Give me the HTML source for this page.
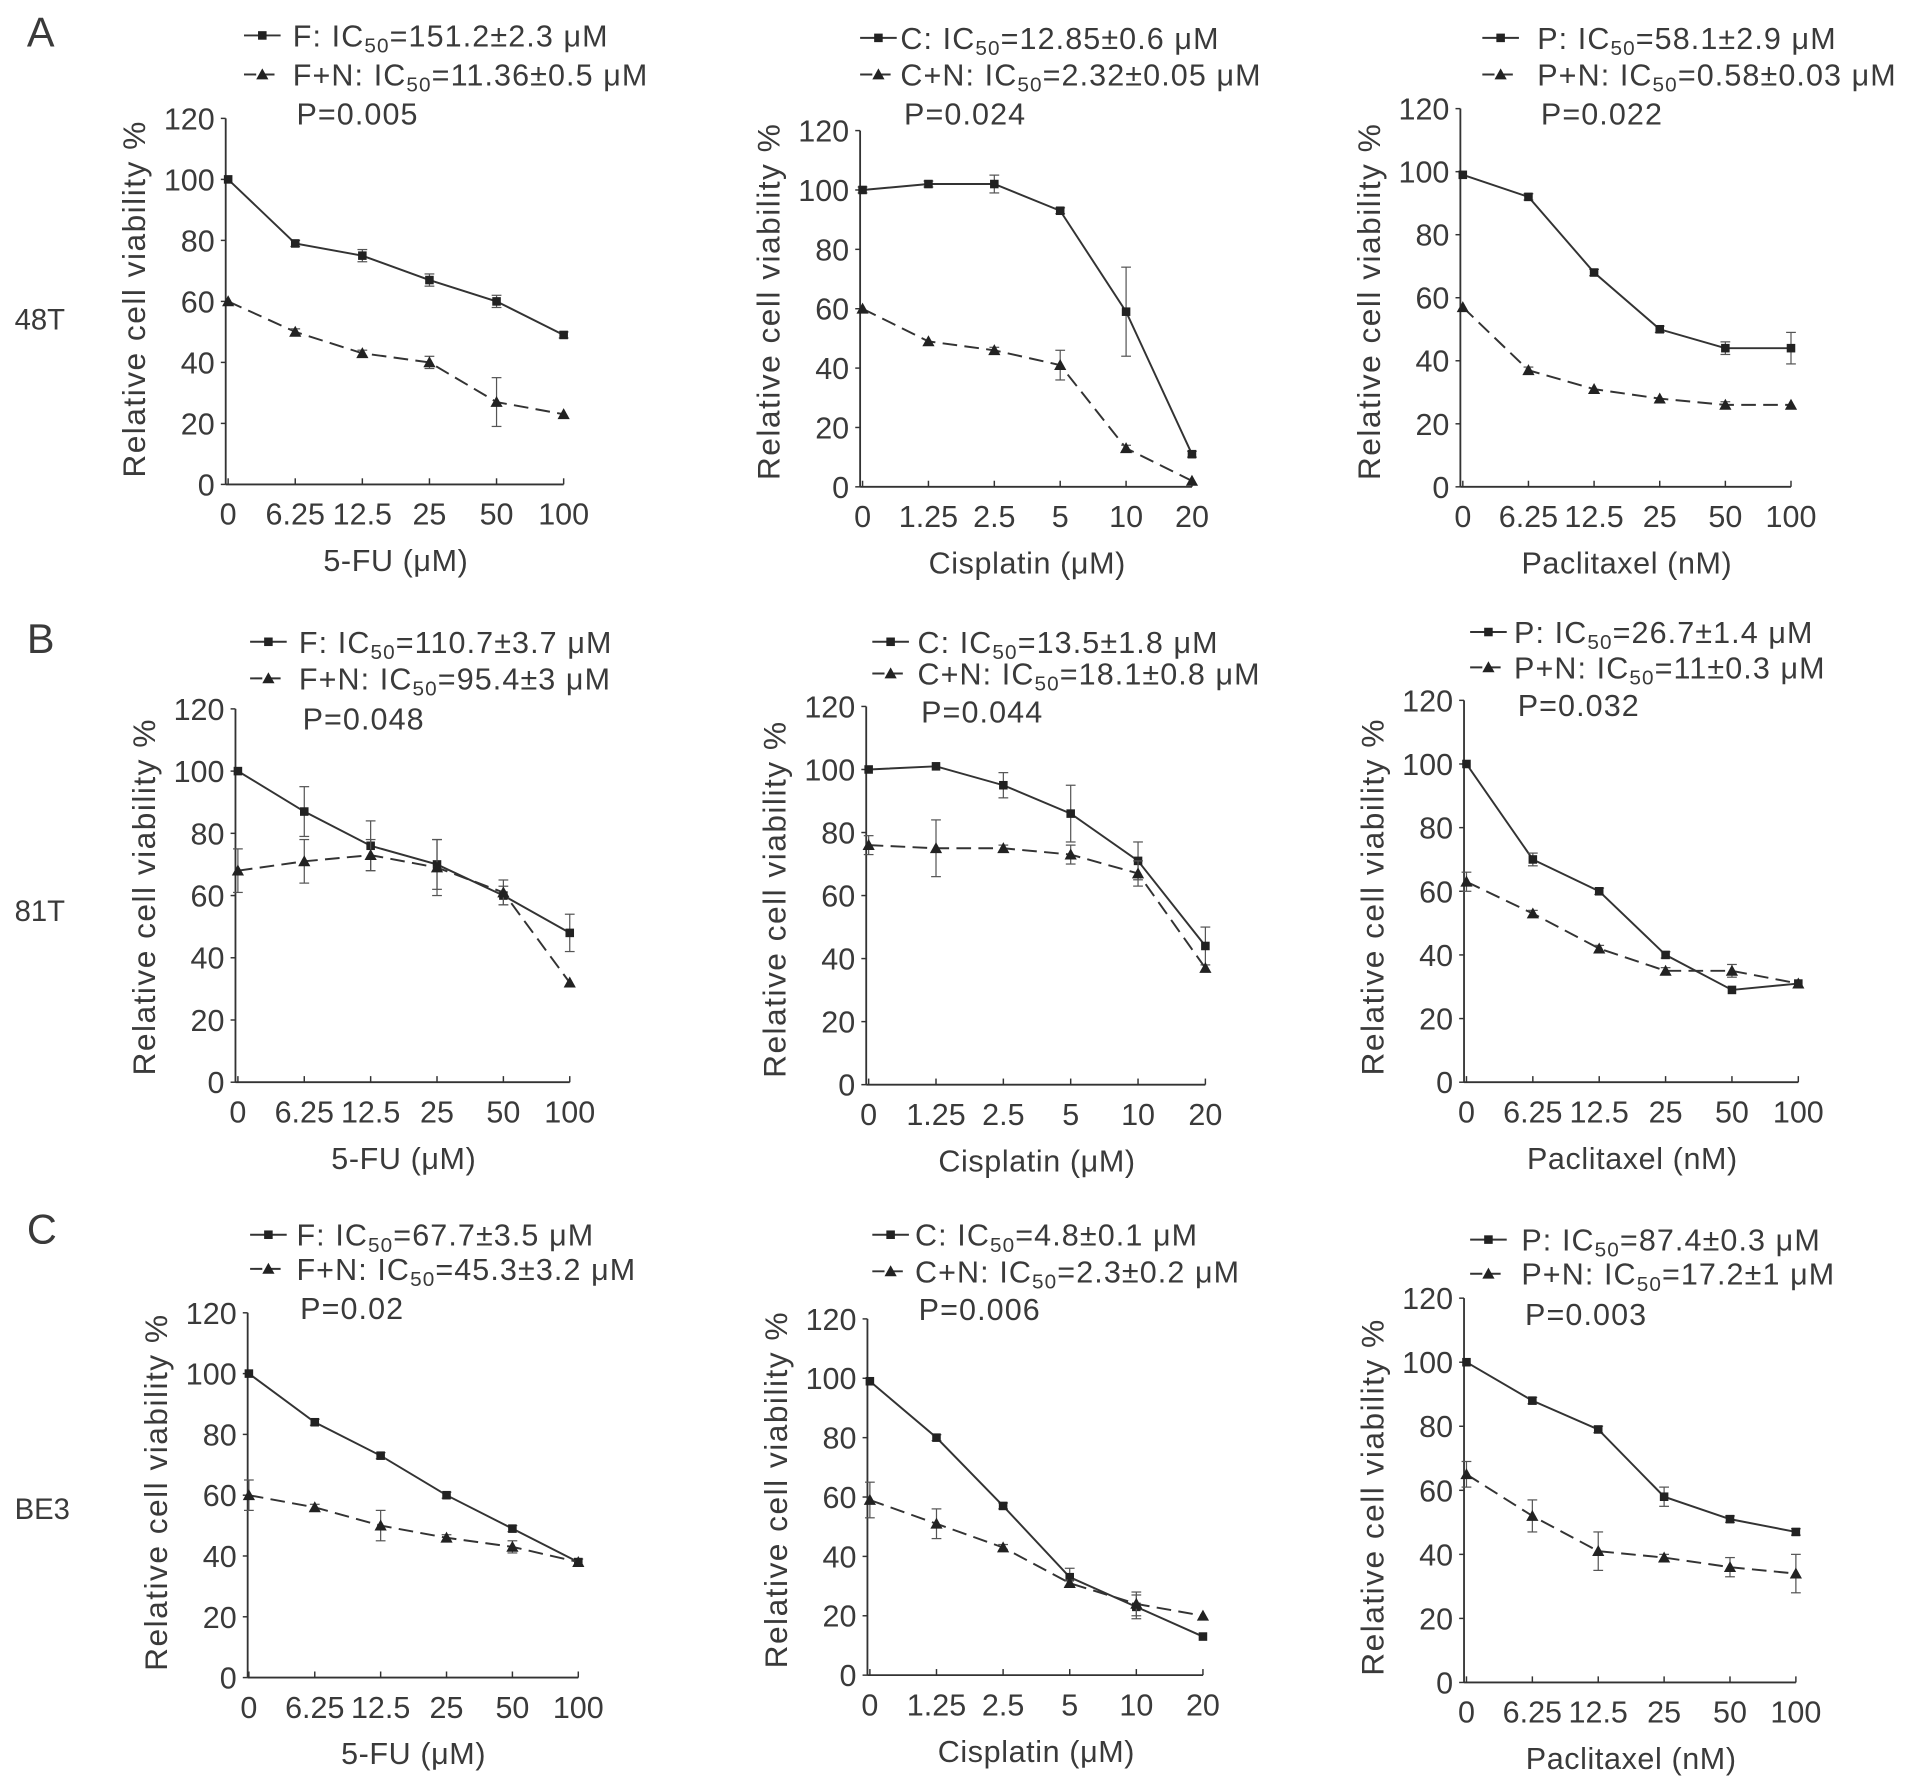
<!DOCTYPE html>
<html><head><meta charset="utf-8"><style>
html,body{margin:0;padding:0;background:#fff}
svg{display:block}
text{font-family:"Liberation Sans",Arial,sans-serif;fill:#3a3a3a}
</style></head><body>
<svg id="fig" width="1913" height="1785" viewBox="0 0 1568 1463" xmlns="http://www.w3.org/2000/svg"></svg>
<script>
// ---- data ----
const yTicks = [0,20,40,60,80,100,120];
const xFU = ["0","6.25","12.5","25","50","100"];
const xCis = ["0","1.25","2.5","5","10","20"];
const xPac = ["0","6.25","12.5","25","50","100"];

const a1Drug = [100,79,75,67,60,49];   const a1DrugErr = [0,1,2,2,2,1];
const a1Comb = [60,50,43,40,27,23];    const a1CombErr = [0,1,1,2,8,0];
const a2Drug = [100,102,102,93,59,11]; const a2DrugErr = [1,1,3,1,15,1];
const a2Comb = [60,49,46,41,13,2];     const a2CombErr = [0,0,1,5,1,0];
const a3Drug = [99,92,68,50,44,44];    const a3DrugErr = [0,1,1,1,2,5];
const a3Comb = [57,37,31,28,26,26];    const a3CombErr = [0,1,0,0,1,0];

const b1Drug = [100,87,76,70,60,48];   const b1DrugErr = [0,8,8,8,3,6];
const b1Comb = [68,71,73,69,61,32];    const b1CombErr = [7,7,5,9,4,0];
const b2Drug = [100,101,95,86,71,44];  const b2DrugErr = [0,0,4,9,6,6];
const b2Comb = [76,75,75,73,67,37];    const b2CombErr = [3,9,1,3,4,0];
const b3Drug = [100,70,60,40,29,31];   const b3DrugErr = [0,2,1,1,0,0];
const b3Comb = [63,53,42,35,35,31];    const b3CombErr = [3,1,1,1,2,0];

const c1Drug = [100,84,73,60,49,38];   const c1DrugErr = [0,1,1,1,1,1];
const c1Comb = [60,56,50,46,43,38];    const c1CombErr = [5,1,5,1,2,0];
const c2Drug = [99,80,57,33,23,13];    const c2DrugErr = [0,1,1,3,4,0];
const c2Comb = [59,51,43,31,24,20];    const c2CombErr = [6,5,1,1,4,0];
const c3Drug = [100,88,79,58,51,47];   const c3DrugErr = [0,1,1,3,1,1];
const c3Comb = [65,52,41,39,36,34];    const c3CombErr = [4,5,6,1,3,6];

const a1Leg = ["F: IC","=151.2±2.3 μM","F+N: IC","=11.36±0.5 μM","P=0.005"];
const a2Leg = ["C: IC","=12.85±0.6 μM","C+N: IC","=2.32±0.05 μM","P=0.024"];
const a3Leg = ["P: IC","=58.1±2.9 μM","P+N: IC","=0.58±0.03 μM","P=0.022"];
const b1Leg = ["F: IC","=110.7±3.7 μM","F+N: IC","=95.4±3 μM","P=0.048"];
const b2Leg = ["C: IC","=13.5±1.8 μM","C+N: IC","=18.1±0.8 μM","P=0.044"];
const b3Leg = ["P: IC","=26.7±1.4 μM","P+N: IC","=11±0.3 μM","P=0.032"];
const c1Leg = ["F: IC","=67.7±3.5 μM","F+N: IC","=45.3±3.2 μM","P=0.02"];
const c2Leg = ["C: IC","=4.8±0.1 μM","C+N: IC","=2.3±0.2 μM","P=0.006"];
const c3Leg = ["P: IC","=87.4±0.3 μM","P+N: IC","=17.2±1 μM","P=0.003"];

// ---- layout ----
const panels = [
 {id:"a1",ax:185,y0:397,y1:97,x0:187,x1:462,xl:xFU,title:"5-FU (μM)",d:a1Drug,de:a1DrugErr,c:a1Comb,ce:a1CombErr,leg:a1Leg,lx:200,tx:240,ly:[38,70,102]},
 {id:"a2",ax:705,y0:399,y1:107,x0:707,x1:977,xl:xCis,title:"Cisplatin (μM)",d:a2Drug,de:a2DrugErr,c:a2Comb,ce:a2CombErr,leg:a2Leg,lx:705,tx:738,ly:[40,70,102]},
 {id:"a3",ax:1197,y0:399,y1:89,x0:1199,x1:1468,xl:xPac,title:"Paclitaxel (nM)",d:a3Drug,de:a3DrugErr,c:a3Comb,ce:a3CombErr,leg:a3Leg,lx:1215,tx:1260,ly:[40,70,102]},
 {id:"b1",ax:193,y0:887,y1:581,x0:195,x1:467,xl:xFU,title:"5-FU (μM)",d:b1Drug,de:b1DrugErr,c:b1Comb,ce:b1CombErr,leg:b1Leg,lx:205,tx:245,ly:[535,565,598]},
 {id:"b2",ax:710,y0:889,y1:579,x0:712,x1:988,xl:xCis,title:"Cisplatin (μM)",d:b2Drug,de:b2DrugErr,c:b2Comb,ce:b2CombErr,leg:b2Leg,lx:715,tx:752,ly:[535,561,592]},
 {id:"b3",ax:1200,y0:887,y1:574,x0:1202,x1:1474,xl:xPac,title:"Paclitaxel (nM)",d:b3Drug,de:b3DrugErr,c:b3Comb,ce:b3CombErr,leg:b3Leg,lx:1205,tx:1241,ly:[527,556,587]},
 {id:"c1",ax:203,y0:1375,y1:1076,x0:204,x1:474,xl:xFU,title:"5-FU (μM)",d:c1Drug,de:c1DrugErr,c:c1Comb,ce:c1CombErr,leg:c1Leg,lx:205,tx:243,ly:[1021,1049,1081]},
 {id:"c2",ax:711,y0:1373,y1:1081,x0:713,x1:986,xl:xCis,title:"Cisplatin (μM)",d:c2Drug,de:c2DrugErr,c:c2Comb,ce:c2CombErr,leg:c2Leg,lx:715,tx:750,ly:[1021,1051,1082]},
 {id:"c3",ax:1200,y0:1379,y1:1064,x0:1202,x1:1472,xl:xPac,title:"Paclitaxel (nM)",d:c3Drug,de:c3DrugErr,c:c3Comb,ce:c3CombErr,leg:c3Leg,lx:1205,tx:1247,ly:[1025,1053,1086]}
];

const NS="http://www.w3.org/2000/svg";
const svg=document.getElementById('fig');
function mk(tag,attrs,parent){const e=document.createElementNS(NS,tag);for(const k in attrs)e.setAttribute(k,attrs[k]);(parent||svg).appendChild(e);return e;}
const STROKE="#333";
const FS=25;

function marker(g,x,y,tri){
  let m;
  if(tri){m=mk('polygon',{points:`${x},${y-5} ${x-5},${y+4} ${x+5},${y+4}`,fill:"#222"},g);}
  else{m=mk('rect',{x:x-3.5,y:y-3.5,width:7,height:7,fill:"#222"},g);}
  return m;
}

panels.forEach(p=>{
  const g=mk('g',{});
  
  
  const ys=v=>p.y0+(p.y1-p.y0)*v/120;
  const n=p.xl.length;
  const xs=i=>p.x0+(p.x1-p.x0)*i/(n-1);
  const ya=mk('line',{x1:p.ax,y1:p.y1,x2:p.ax,y2:p.y0,stroke:STROKE,'stroke-width':1.5},g);
  
  
  const xa=mk('line',{x1:p.ax,y1:p.y0,x2:p.x1,y2:p.y0,stroke:STROKE,'stroke-width':1.5},g);
  
  
  yTicks.forEach(t=>{
    mk('line',{x1:p.ax-4,y1:ys(t),x2:p.ax,y2:ys(t),stroke:STROKE,'stroke-width':1.2},g);
    const tl=mk('text',{x:p.ax-9,y:ys(t)+9,'text-anchor':'end','font-size':FS},g);
    tl.textContent=t;
    
    
  });
  p.xl.forEach((l,i)=>{
    mk('line',{x1:xs(i),y1:p.y0-5,x2:xs(i),y2:p.y0,stroke:STROKE,'stroke-width':1.2},g);
    const tl=mk('text',{x:xs(i),y:p.y0+33,'text-anchor':'middle','font-size':FS},g);
    tl.textContent=l;
    
    
  });
  const xt=mk('text',{x:(p.x0+p.x1)/2,y:p.y0+71,'text-anchor':'middle','font-size':FS,'letter-spacing':0.5},g);
  xt.textContent=p.title;
  
  
  const yc=p.y0-152;
  const yt=mk('text',{x:0,y:0,'text-anchor':'middle','font-size':26,'letter-spacing':1.2,transform:`translate(${p.ax-66},${yc}) rotate(-90)`},g);
  yt.textContent="Relative cell viability %";
  
  
  [[p.d,p.de,false],[p.c,p.ce,true]].forEach(([vals,errs,tri])=>{
    const pts=vals.map((v,i)=>`${xs(i)},${ys(v)}`).join(' ');
    const line=mk('polyline',{points:pts,fill:'none',stroke:STROKE,'stroke-width':1.6,'stroke-dasharray':tri?'12,6':'none'},g);
    
    
    vals.forEach((v,i)=>{
      if(errs[i]>0){
        const x=xs(i),a=ys(v+errs[i]),b=ys(v-errs[i]);
        mk('line',{x1:x,y1:a,x2:x,y2:b,stroke:'#555','stroke-width':1},g);
        mk('line',{x1:x-4,y1:a,x2:x+4,y2:a,stroke:'#555','stroke-width':1},g);
        mk('line',{x1:x-4,y1:b,x2:x+4,y2:b,stroke:'#555','stroke-width':1},g);
      }
      const m=marker(g,xs(i),ys(v),tri);
      
      
    });
  });
  [0,1].forEach(k=>{
    const y=p.ly[k];
    const lg=mk('g',{},g);
    
    
    mk('line',{x1:p.lx,y1:y-9,x2:p.lx+30,y2:y-9,stroke:STROKE,'stroke-width':1.6,'stroke-dasharray':k?'10,5':'none'},lg);
    marker(lg,p.lx+15,y-9,k===1);
    const t=mk('text',{x:p.tx,y:y,'font-size':FS,'letter-spacing':0.9},lg);
    const s1=mk('tspan',{},t);s1.textContent=p.leg[k*2];
    const s2=mk('tspan',{'font-size':17,dy:5},t);s2.textContent="50";
    const s3=mk('tspan',{dy:-5},t);s3.textContent=p.leg[k*2+1];
  });
  const pv=mk('text',{x:p.tx+3,y:p.ly[2],'font-size':FS,'letter-spacing':0.9},g);
  pv.textContent=p.leg[4];
  
  
});

[["A",22,38],["B",22,535],["C",22,1019]].forEach(([t,x,y])=>{
  const e=mk('text',{x:x,y:y,'font-size':34});e.textContent=t;
  
  
});
[["48T",12,270],["81T",12,755],["BE3",12,1245]].forEach(([t,x,y])=>{
  const e=mk('text',{x:x,y:y,'font-size':24});e.textContent=t;
  
  
});
</script>
</body></html>
